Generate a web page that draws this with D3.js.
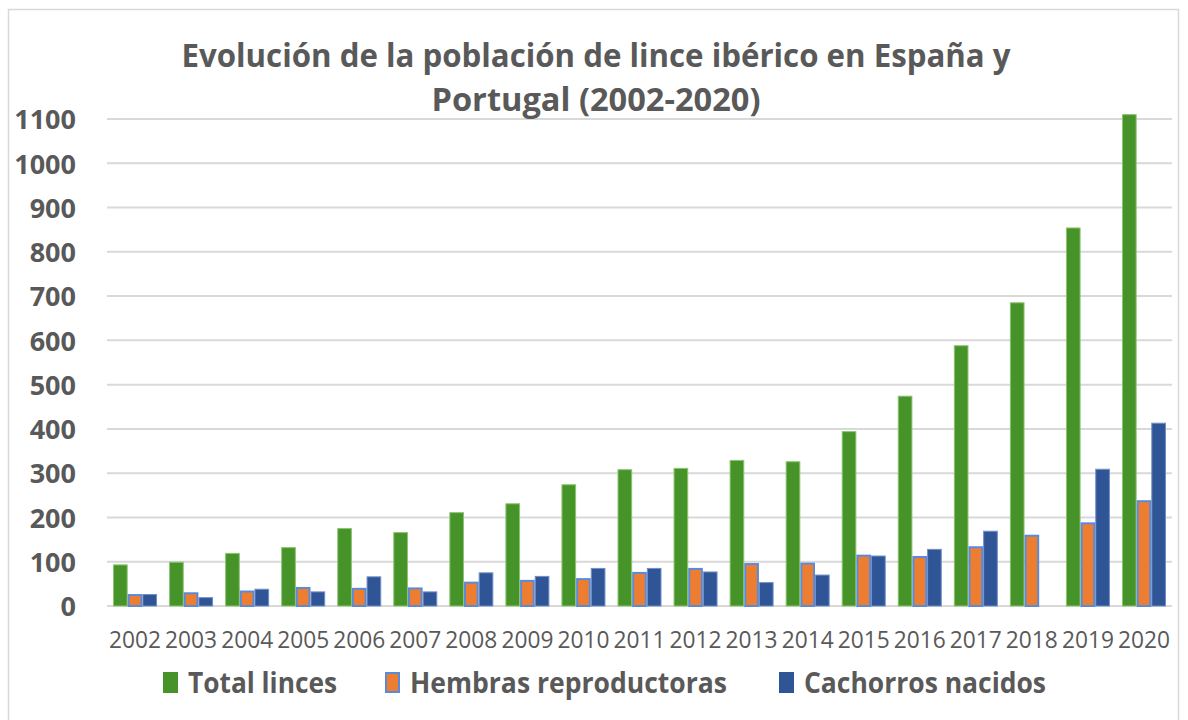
<!DOCTYPE html>
<html>
<head>
<meta charset="utf-8">
<script src="https://cdn.jsdelivr.net/npm/d3@7"></script>
<style>
  body { margin: 0; background: #fff; }
  #d3-panel { width: 1188px; height: 720px; }
</style>
</head>
<body>
<div id="d3-panel"></div>
<script>
var years = ["2002","2003","2004","2005","2006","2007","2008","2009","2010","2011","2012","2013","2014","2015","2016","2017","2018","2019","2020"];
var totalLinces = [94, 100, 120, 133, 176, 167, 212, 232, 275, 309, 312, 330, 327, 395, 475, 589, 686, 855, 1111];
var hembras = [27, 31, 35, 43, 41, 42, 55, 59, 63, 77, 86, 97, 98, 116, 113, 135, 161, 189, 239];
var cachorros = [27, 20, 39, 33, 67, 33, 76, 68, 86, 86, 78, 54, 71, 114, 129, 170, null, 310, 414];
var seriesNames = ["Total linces", "Hembras reproductoras", "Cachorros nacidos"];
var yTicks = [0, 100, 200, 300, 400, 500, 600, 700, 800, 900, 1000, 1100];

var width = 1188;
var height = 720;
var colors = ["#46932a", "#ed7d31", "#2f5597"];
var edges = ["#8cc46f", "#5b8bd8", "#6f8fc8"];
var textColor = "#595959";
var font = "'Open Sans', 'Noto Sans', sans-serif";

var svg = d3.select("#d3-panel")
    .append("svg")
    .attr("width", width)
    .attr("height", height);

// chart frame
svg.append("rect")
    .attr("x", 8.5).attr("y", 9.5)
    .attr("width", 1170).attr("height", 720)
    .attr("fill", "#fff")
    .attr("stroke", "#d9d9d9")
    .attr("stroke-width", 1.5);

var x = d3.scaleBand()
    .domain(years)
    .range([107, 1172])
    .paddingInner(0.215)
    .paddingOuter(0.1075);

var y = d3.scaleLinear()
    .domain([0, 1100])
    .range([606, 119]);

var sub = d3.scaleBand()
    .domain(d3.range(3))
    .range([0, x.bandwidth()]);

// gridlines
svg.selectAll(".grid")
    .data(yTicks)
    .enter()
    .append("line")
    .attr("x1", 107)
    .attr("x2", 1172)
    .attr("y1", function (d) { return y(d); })
    .attr("y2", function (d) { return y(d); })
    .attr("stroke", "#d9d9d9")
    .attr("stroke-width", 2);

// y axis labels
var yAxis = d3.axisLeft(y).tickValues(yTicks).tickFormat(d3.format("d")).tickSize(0).tickPadding(0);
var yg = svg.append("g")
    .attr("transform", "translate(76,0)")
    .call(yAxis);
yg.select(".domain").remove();
yg.selectAll("text")
    .attr("font-family", font)
    .attr("font-weight", "bold")
    .attr("font-size", 27)
    .attr("fill", textColor)
    .attr("dy", "0.36em");

// bars
var table = [totalLinces, hembras, cachorros];
table.forEach(function (vals, s) {
    svg.append("g").selectAll("rect")
        .data(vals.map(function (v, i) { return { year: years[i], v: v }; })
            .filter(function (d) { return d.v != null; }))
        .enter()
        .append("rect")
        .attr("x", function (d) { return x(d.year) + sub(s) + (s == 1 ? 1 : 0.5); })
        .attr("y", function (d) { return y(d.v) + (s == 1 ? 1 : 0.5); })
        .attr("width", sub.bandwidth() - (s == 1 ? 2 : 1))
        .attr("height", function (d) { return y(0) - y(d.v) - (s == 1 ? 1 : 0.5); })
        .attr("fill", colors[s])
        .attr("stroke", edges[s])
        .attr("stroke-width", s == 1 ? 2 : 1);
});

// x axis labels
var xAxis = d3.axisBottom(x).tickSize(0).tickPadding(0);
var xg = svg.append("g")
    .attr("transform", "translate(0,630)")
    .call(xAxis);
xg.select(".domain").remove();
xg.selectAll("text")
    .attr("font-family", font)
    .attr("font-size", 23)
    .attr("fill", textColor)
    .attr("dy", "0.78em")
    .attr("textLength", 52)
    .attr("lengthAdjust", "spacingAndGlyphs");

// title
var titleLines = ["Evolución de la población de lince ibérico en España y", "Portugal (2002-2020)"];
var titleWidths = [829, 329];
svg.selectAll(".title")
    .data(titleLines)
    .enter()
    .append("text")
    .attr("x", 596)
    .attr("y", function (d, i) { return 67 + i * 44; })
    .attr("text-anchor", "middle")
    .attr("font-family", font)
    .attr("font-weight", "bold")
    .attr("font-size", 33)
    .attr("fill", textColor)
    .attr("textLength", function (d, i) { return titleWidths[i]; })
    .attr("lengthAdjust", "spacingAndGlyphs")
    .text(function (d) { return d; });

// legend
var legendX = [163, 385, 779];
var legendW = [149, 317, 242];
var lg = svg.selectAll(".legend")
    .data(seriesNames)
    .enter()
    .append("g")
    .attr("transform", function (d, i) { return "translate(" + legendX[i] + ",672)"; });
lg.append("rect")
    .attr("x", function (d, i) { return i == 1 ? 1 : 0; })
    .attr("y", function (d, i) { return i == 1 ? 1 : 0; })
    .attr("width", function (d, i) { return i == 1 ? 13 : 15; })
    .attr("height", function (d, i) { return i == 1 ? 19 : 21; })
    .attr("fill", function (d, i) { return colors[i]; })
    .attr("stroke", function (d, i) { return i == 1 ? edges[1] : "none"; })
    .attr("stroke-width", 2);
lg.append("text")
    .attr("x", 25)
    .attr("y", 21)
    .attr("font-family", font)
    .attr("font-weight", "bold")
    .attr("font-size", 28)
    .attr("fill", textColor)
    .attr("textLength", function (d, i) { return legendW[i]; })
    .attr("lengthAdjust", "spacingAndGlyphs")
    .text(function (d) { return d; });
</script>
</body>
</html>
